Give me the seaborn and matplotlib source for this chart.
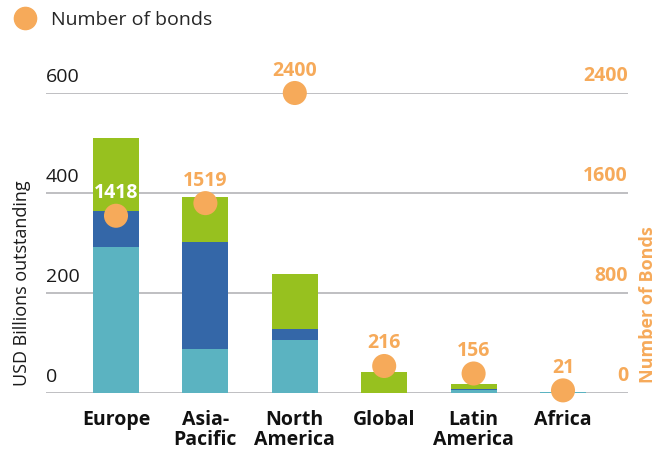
import matplotlib
matplotlib.use("Agg")
import matplotlib.pyplot as plt
import seaborn as sns
import pandas as pd
from matplotlib.lines import Line2D

regions = ["Europe", "Asia-\nPacific", "North\nAmerica", "Global", "Latin\nAmerica", "Africa"]
seg_teal = [292, 88, 106, 0, 6, 2]
seg_blue = [72, 214, 22, 0, 1.5, 0]
seg_green = [146, 90, 110, 42, 10.5, 1]
num_bonds = [1418, 1519, 2400, 216, 156, 21]
left_ticks = [0, 200, 400, 600]
right_ticks = [0, 800, 1600, 2400]

TEAL = "#5bb3c1"
BLUE = "#3467a8"
GREEN = "#97c11f"
ORANGE = "#f6aa5a"
GRID = "#b4b4b8"

sns.set_theme(style="white")
plt.rcParams["font.family"] = ["Open Sans", "DejaVu Sans"]

df = pd.DataFrame({
    "region": regions,
    "teal": seg_teal,
    "blue": seg_blue,
    "green": seg_green,
    "bonds": num_bonds,
})
df["cum_blue"] = df["teal"] + df["blue"]
df["cum_green"] = df["cum_blue"] + df["green"]
df["x"] = range(len(df))

fig = plt.figure(figsize=(6.70, 4.51), dpi=100)
ax = fig.add_axes([46 / 670, 1 - 393 / 451, (628 - 46) / 670, 300 / 451])

w = 0.515
for col, c in [("cum_green", GREEN), ("cum_blue", BLUE), ("teal", TEAL)]:
    sns.barplot(data=df, x="region", y=col, color=c, width=w, saturation=1, ax=ax,
                zorder=2, linewidth=0, edgecolor="none")

ax.set_ylim(0, 600)
ax.set_xlim(-0.783, 5.727)
for t in left_ticks:
    ax.axhline(t, color=GRID, lw=1.2, zorder=1)
    ax.text(0, t + 14, str(t), transform=ax.get_yaxis_transform(), ha="left", va="bottom",
            fontsize=14, color="#1a1a1a")
for s in ax.spines.values():
    s.set_visible(False)
ax.set_yticks([])
ax.set_xlabel("")
ax.set_ylabel("")
ax.tick_params(axis="x", length=0, pad=12)
for lab in ax.get_xticklabels():
    lab.set_fontweight("bold")
    lab.set_fontsize(14)
    lab.set_color("#111111")
    lab.set_linespacing(1.05)

ax2 = ax.twinx()
ax2.set_ylim(0, 2400)
sns.scatterplot(data=df, x="x", y="bonds", color=ORANGE, s=300, edgecolor="none",
                ax=ax2, zorder=5, clip_on=False, legend=False)
ax2.set_xlim(-0.783, 5.727)
ax2.set_yticks([])
ax2.set_ylabel("")
ax2.set_xlabel("")
for s in ax2.spines.values():
    s.set_visible(False)
for t in right_ticks:
    ax2.text(1, t + 56, str(t), transform=ax2.get_yaxis_transform(), ha="right", va="bottom",
             fontsize=14, fontweight="bold", color=ORANGE)
for i, v in enumerate(num_bonds):
    ax2.text(i, v + 100, str(v), ha="center", va="bottom", fontsize=14, fontweight="bold",
             color="white" if i == 0 else ORANGE, zorder=6)

fig.text(22 / 670, 1 - 283 / 451, "USD Billions outstanding", rotation=90, ha="center", va="center",
         fontsize=13, color="#1a1a1a")
fig.text(648 / 670, 1 - 305 / 451, "Number of Bonds", rotation=90, ha="center", va="center",
         fontsize=13, fontweight="bold", color=ORANGE)

handle = Line2D([], [], marker="o", color=ORANGE, linestyle="none", markersize=16)
fig.legend([handle], ["Number of bonds"], loc="center left", bbox_to_anchor=(4 / 670, 1 - 20 / 451),
           frameon=False, fontsize=14, handletextpad=0.7, borderpad=0, handlelength=1.2)

fig.savefig("out.png", dpi=100)
